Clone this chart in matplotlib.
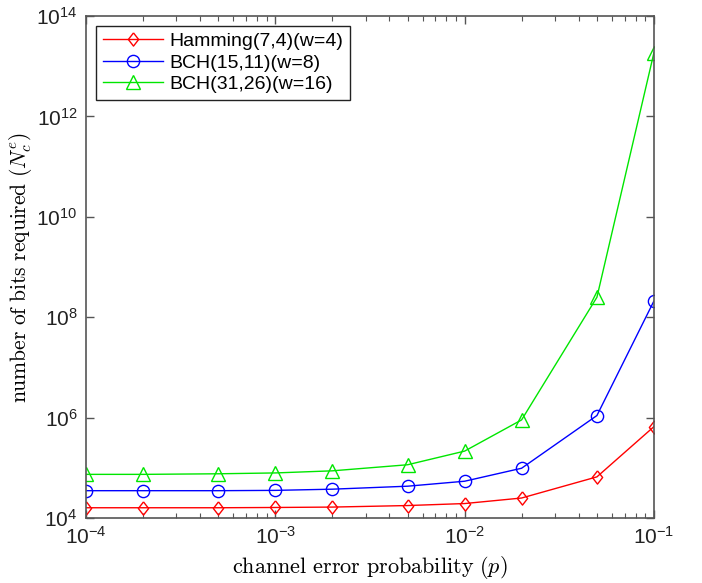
import numpy as np
import matplotlib
matplotlib.use('Agg')
import matplotlib.pyplot as plt
from matplotlib.ticker import LogLocator, NullFormatter

plt.rcParams['font.family'] = ['Liberation Sans', 'DejaVu Sans']
plt.rcParams['mathtext.fontset'] = 'cm'

# channel error probability
p = [1e-4, 2e-4, 5e-4, 1e-3, 2e-3, 5e-3, 1e-2, 2e-2, 5e-2, 1e-1]

# number of bits required
hamming_7_4 = [1.6e4, 1.6e4, 1.6e4, 1.62e4, 1.65e4, 1.77e4, 1.94e4, 2.5e4, 6.6e4, 6.6e5]
bch_15_11 = [3.5e4, 3.5e4, 3.5e4, 3.55e4, 3.75e4, 4.3e4, 5.4e4, 9.8e4, 1.1e6, 2.1e8]
bch_31_26 = [7.4e4, 7.4e4, 7.6e4, 7.9e4, 8.7e4, 1.15e5, 2.15e5, 9.0e5, 2.5e8, 1.85e13]

labels = ['Hamming(7,4)(w=4)', 'BCH(15,11)(w=8)', 'BCH(31,26)(w=16)']

# MATLAB style diamond (a bit taller than wide)
diamond = [(0, 1), (0.78, 0), (0, -1), (-0.78, 0), (0, 1)]

fig = plt.figure(figsize=(7.02, 5.83), dpi=100)
ax = fig.add_axes([0.1225, 0.1115, 0.809, 0.861])

ax.loglog(p, hamming_7_4, color='#ff0000', lw=1.0, marker=diamond, ms=9.5,
          mfc='none', mec='#ff0000', mew=1.0, label=labels[0])
ax.loglog(p, bch_15_11, color='#0000ff', lw=1.0, marker='o', ms=8.8,
          mfc='none', mec='#0000ff', mew=1.0, label=labels[1])
ax.loglog(p, bch_31_26, color='#00e600', lw=1.0, marker='^', ms=9.5,
          mfc='none', mec='#00e600', mew=1.0, label=labels[2])

ax.set_xlim(1e-4, 1e-1)
ax.set_ylim(1e4, 1e14)

ax.set_yticks([1e4, 1e6, 1e8, 1e10, 1e12, 1e14])
ax.yaxis.set_minor_locator(matplotlib.ticker.NullLocator())
ax.xaxis.set_minor_locator(LogLocator(base=10, subs=np.arange(2, 10)))
ax.xaxis.set_minor_formatter(NullFormatter())

for s in ax.spines.values():
    s.set_color('#555555')
    s.set_linewidth(1.2)
ax.tick_params(which='both', direction='in', top=True, right=True,
               colors='#555555', labelcolor='#222222')
ax.tick_params(which='major', length=6, width=1.0, labelsize=15, pad=6)
ax.tick_params(which='minor', length=3.5, width=0.8)

ax.set_xlabel(r'$\mathrm{channel\ error\ probability}\ (p)$', fontsize=16, labelpad=4)
ax.set_ylabel(r'$\mathrm{number\ of\ bits\ required}\ (N_c^e)$', fontsize=15.5, labelpad=2)

leg = ax.legend(loc='upper left', fontsize=14, fancybox=False, framealpha=1,
                edgecolor='#222222', handlelength=3.1, labelspacing=0.2,
                borderaxespad=0.5, borderpad=0.35, handletextpad=0.35)
leg.get_frame().set_linewidth(1.0)

fig.savefig('out.png', dpi=100, facecolor='white')
